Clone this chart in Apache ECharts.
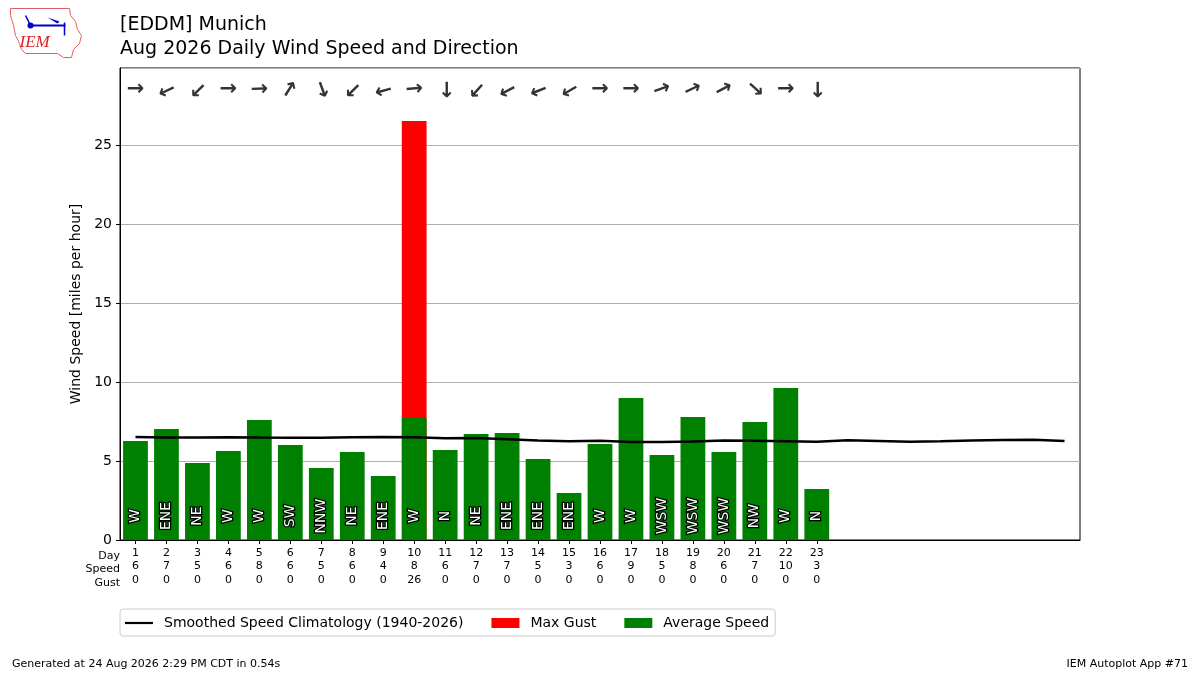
<!DOCTYPE html>
<html><head><meta charset="utf-8">
<script src="https://cdn.jsdelivr.net/npm/echarts@6/dist/echarts.min.js"></script>
<style>html,body{margin:0;padding:0;background:#fff}#c{width:1200px;height:675px}</style>
</head><body><div id="c"></div>
<script>
const days = [];
for (let d = 1; d <= 31; d++) days.push(d);
const avgSpeed = [6.27,7.03,4.87,5.63,7.59,6.01,4.56,5.57,4.05,7.72,5.70,6.71,6.77,5.13,2.97,6.08,8.99,5.38,7.78,5.57,7.47,9.62,3.23];
const maxGust = [0,0,0,0,0,0,0,0,0,26.52,0,0,0,0,0,0,0,0,0,0,0,0,0];
const speedLabels = [6,7,5,6,8,6,5,6,4,8,6,7,7,5,3,6,9,5,8,6,7,10,3];
const gustLabels = [0,0,0,0,0,0,0,0,0,26,0,0,0,0,0,0,0,0,0,0,0,0,0];
const dirText = ['W','ENE','NE','W','W','SW','NNW','NE','ENE','W','N','NE','ENE','ENE','ENE','W','W','WSW','WSW','WSW','NW','W','N'];
const dirDeg = [270,65,45,270,268,212,340,45,75,265,0,42,62,68,60,270,270,250,245,242,312,270,0];
const climo = [6.52,6.48,6.48,6.50,6.48,6.47,6.47,6.51,6.52,6.50,6.44,6.45,6.38,6.30,6.25,6.28,6.20,6.20,6.23,6.30,6.28,6.25,6.22,6.32,6.27,6.22,6.25,6.30,6.33,6.34,6.27];

const ARROW_Y = 28.5;
const nObs = avgSpeed.length;
const FONT = 'DejaVu Sans';

const chart = echarts.init(document.getElementById('c'), null, {renderer:'canvas'});
const option = {
  animation: false,
  textStyle: {fontFamily: FONT},
  grid: {left:120, right:120, top:68, bottom:135, show:true, borderColor:'#000', borderWidth:1, backgroundColor:'transparent', containLabel:false},
  title: [
    {text:'[EDDM] Munich', left:120, top:16, padding:0, textStyle:{fontFamily:FONT, fontSize:19, fontWeight:'normal', color:'#000'}},
    {text:'Aug 2026 Daily Wind Speed and Direction', left:120, top:40, padding:0, textStyle:{fontFamily:FONT, fontSize:19, fontWeight:'normal', color:'#000'}}
  ],
  legend: {
    left:120, top:609, orient:'horizontal',
    borderColor:'#ccc', borderWidth:1, borderRadius:3, padding:[7,6,6,5],
    itemGap:28, itemWidth:28, itemHeight:10,
    textStyle:{fontFamily:FONT, fontSize:14, color:'#000', padding:[0,0,0,6]},
    data:[
      {name:'Smoothed Speed Climatology (1940-2026)', icon:'path://M0,4 L28,4 L28,6.2 L0,6.2 Z'},
      {name:'Max Gust', icon:'rect'},
      {name:'Average Speed', icon:'rect'}
    ]
  },
  xAxis: {
    type:'category', data:days, boundaryGap:true,
    axisLine:{show:true, lineStyle:{color:'#000', width:1}},
    axisTick:{show:true, alignWithLabel:true, length:4, lineStyle:{color:'#000'}, interval:(i)=> i < nObs},
    axisLabel:{
      interval:0, color:'#000', fontSize:11, lineHeight:13.5, margin:6, fontFamily:FONT,
      formatter:(v, i)=> i < nObs ? `${days[i]}\n${speedLabels[i]}\n${gustLabels[i]}` : ''
    },
    splitLine:{show:false}
  },
  yAxis: {
    type:'value', min:0, max:29.87, interval:5,
    name:'Wind Speed [miles per hour]', nameLocation:'middle', nameGap:33,
    nameTextStyle:{fontFamily:FONT, fontSize:14, color:'#000'},
    axisLine:{show:true, lineStyle:{color:'#000'}},
    axisTick:{show:true, length:4, lineStyle:{color:'#000'}},
    axisLabel:{color:'#000', fontSize:14, fontFamily:FONT, margin:8, showMaxLabel:false,
      formatter:(v)=> (Math.abs(v % 5) < 1e-6 ? String(v) : '')},
    splitLine:{show:true, lineStyle:{color:'#b0b0b0', width:1}}
  },
  series: [
    {
      name:'Max Gust', type:'bar', data:maxGust, barWidth:'80%', barGap:'-100%',
      itemStyle:{color:'#ff0000'}, z:2
    },
    {
      name:'Average Speed', type:'bar', data:avgSpeed, barWidth:'80%', barGap:'-100%',
      itemStyle:{color:'#008000'}, z:3,
      label:{
        show:true, position:'insideBottom', rotate:90, distance:24,
        align:'center', verticalAlign:'middle',
        formatter:(p)=> dirText[p.dataIndex],
        color:'#fff', fontSize:14, fontFamily:FONT,
        textBorderColor:'#000', textBorderWidth:2.5
      }
    },
    {
      name:'Smoothed Speed Climatology (1940-2026)', type:'line', data:climo,
      symbol:'none', smooth:false, lineStyle:{color:'#000', width:2.5}, itemStyle:{color:'#000'}, z:5
    },
    {
      name:'arrows', type:'scatter', symbolSize:1, itemStyle:{color:'transparent'},
      data: dirDeg.map((d, i)=> ({
        value:[i, ARROW_Y],
        label:{show:true, position:'inside', formatter:'→', rotate: 90 - (d + 180), fontSize:21, fontWeight:'bold', color:'#000', fontFamily:FONT}
      })),
      z:6, silent:true
    }
  ],
  graphic: [
    {type:'text', x:120, y:549, style:{text:'Day\nSpeed\nGust', fontFamily:FONT, fontSize:11, lineHeight:13.5, fill:'#000', align:'right'}},
    {type:'text', left:12, top:659, style:{text:'Generated at 24 Aug 2026 2:29 PM CDT in 0.54s', fontFamily:FONT, fontSize:11, fill:'#000'}},
    {type:'text', right:12, top:659, style:{text:'IEM Autoplot App #71', fontFamily:FONT, fontSize:11, fill:'#000'}},
    {type:'group', left:8, top:6, children:[
      {type:'polyline', shape:{points:[[3,3],[62,3],[63,10],[68,16],[70,24],[74,30],[72,38],[66,44],[64,52],[56,52],[50,48],[18,48],[14,44],[12,38],[8,30],[6,20],[3,10],[3,3]]}, style:{stroke:'#e06060', fill:'none', lineWidth:1}},
      {type:'line', shape:{x1:22,y1:20,x2:58,y2:20}, style:{stroke:'#0000cc', lineWidth:2}},
      {type:'circle', shape:{cx:23,cy:20,r:3}, style:{fill:'#0000cc'}},
      {type:'line', shape:{x1:22,y1:18,x2:18,y2:10}, style:{stroke:'#0000cc', lineWidth:1.5}},
      {type:'polygon', shape:{points:[[40,12],[52,16],[50,18]]}, style:{fill:'#0000cc'}},
      {type:'line', shape:{x1:57,y1:17,x2:57,y2:30}, style:{stroke:'#0000cc', lineWidth:1.5}},
      {type:'text', left:12, top:29, style:{text:'IEM', font:'italic 17px "Liberation Serif"', fill:'#dd2222'}}
    ]}
  ]
};
chart.setOption(option);
</script>
</body></html>
